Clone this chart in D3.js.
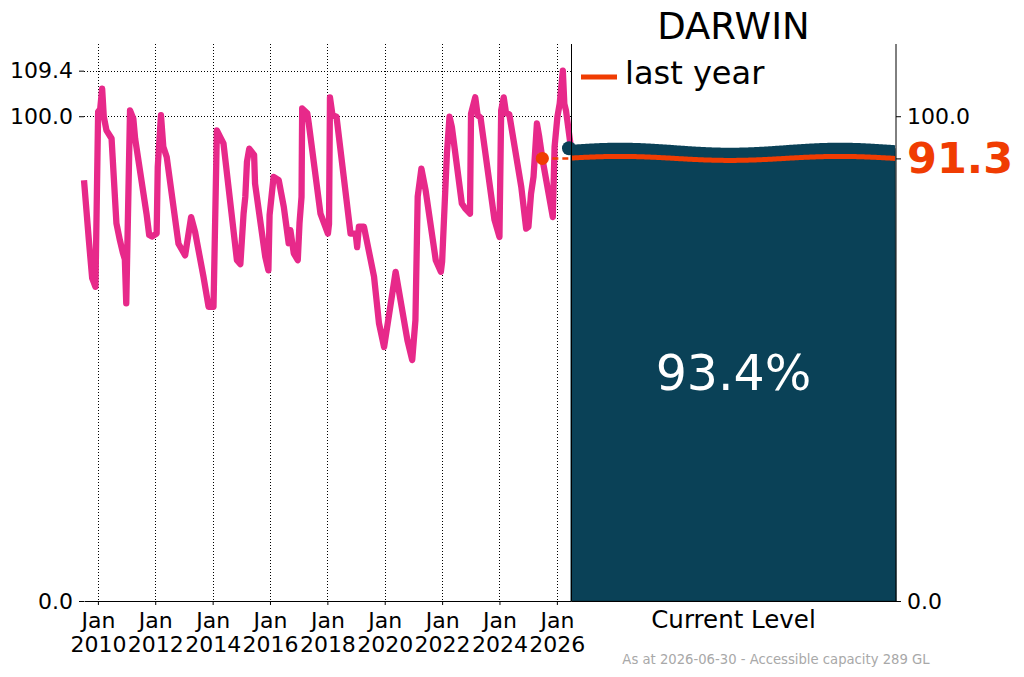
<!DOCTYPE html>
<html>
<head>
<meta charset="utf-8">
<script src="https://cdn.jsdelivr.net/npm/d3@7/dist/d3.min.js"></script>
<style>
  body { margin: 0; background: #fff; }
  text { font-family: "DejaVu Sans", sans-serif; }
</style>
</head>
<body>
<svg id="chart" width="1024" height="677"></svg>
<script>
// storage history (% of accessible capacity)
var dates = [
  '2009-07-08', '2009-09-08', '2009-10-20', '2009-12-01', '2010-01-04', '2010-01-30',
  '2010-02-24', '2010-03-17', '2010-04-20', '2010-06-24', '2010-08-25', '2010-10-08',
  '2010-11-17', '2010-12-10', '2010-12-28', '2011-02-14', '2011-03-28', '2011-04-20',
  '2011-09-12', '2011-10-16', '2011-11-20', '2012-01-19', '2012-02-02', '2012-03-14',
  '2012-04-13', '2012-05-26', '2012-10-23', '2013-01-16', '2013-04-02', '2013-05-23',
  '2013-09-06', '2013-11-10', '2014-01-12', '2014-02-24', '2014-04-08', '2014-05-19',
  '2014-11-06', '2014-12-20', '2015-01-30', '2015-02-21', '2015-03-14', '2015-04-12',
  '2015-06-13', '2015-06-25', '2015-11-02', '2015-12-12', '2015-12-27', '2016-02-16',
  '2016-04-22', '2016-06-25', '2016-08-26', '2016-09-17', '2016-10-30', '2016-12-20',
  '2017-01-11', '2017-02-06', '2017-02-14', '2017-04-20', '2017-05-09', '2017-10-05',
  '2018-01-08', '2018-01-22', '2018-02-03', '2018-03-07', '2018-04-27', '2018-10-23',
  '2018-12-27', '2019-01-15', '2019-02-06', '2019-04-12', '2019-08-18', '2019-10-20',
  '2019-12-24', '2020-05-19', '2020-10-16', '2020-12-16', '2021-01-26', '2021-02-24',
  '2021-04-12', '2021-06-05', '2021-10-12', '2021-12-16', '2022-01-01', '2022-03-03',
  '2022-04-05', '2022-05-05', '2022-09-09', '2022-10-20', '2022-12-22', '2023-01-04',
  '2023-02-27', '2023-03-29', '2023-05-05', '2023-10-30', '2024-01-01', '2024-01-23',
  '2024-02-24', '2024-03-25', '2024-05-05', '2024-10-05', '2024-12-06', '2025-01-04',
  '2025-02-06', '2025-03-10', '2025-04-22', '2025-05-22', '2025-06-30', '2025-11-10',
  '2025-12-03', '2026-01-08', '2026-02-06', '2026-03-18', '2026-04-06', '2026-04-27',
  '2026-06-30'
];
var levels = [
  86.8, 74.4, 66.6, 64.8, 100.9, 101.5,
  105.7, 99.9, 97.1, 95.4, 77.9, 74.4,
  71.7, 70.5, 61.4, 101.2, 99.5, 95.4,
  79.9, 75.5, 75.2, 75.8, 89.5, 100.2,
  93.7, 91.6, 73.7, 71.3, 79.2, 76.1,
  66.9, 60.7, 60.7, 97.1, 95.7, 94.4,
  70.3, 69.5, 79.9, 83.4, 90.6, 93.3,
  92.0, 86.1, 71.0, 68.2, 79.6, 87.5,
  86.8, 81.3, 73.8, 76.5, 71.7, 70.3,
  77.9, 83.4, 101.6, 100.6, 98.5, 79.9,
  75.8, 77.8, 103.9, 100.2, 99.9, 75.8,
  75.8, 73.0, 77.2, 77.2, 66.9, 57.3,
  52.4, 67.9, 53.8, 49.7, 57.9, 83.4,
  89.2, 84.7, 70.3, 67.9, 70.0, 92.3,
  99.9, 97.8, 82.0, 81.0, 79.9, 100.5,
  103.9, 100.2, 99.7, 78.6, 75.1, 101.2,
  103.9, 100.6, 100.4, 85.4, 76.8, 77.2,
  84.0, 87.5, 98.5, 95.7, 91.3, 79.2,
  93.7, 99.9, 102.6, 109.4, 102.6, 101.2,
  93.4
];

var reservoirName = 'DARWIN';
var asAtDate = '2026-06-30';
var lastYearDate = '2025-06-30';
var currentLevel = 93.4;
var lastYearLevel = 91.3;
var capacityGL = 289;
var barCategories = ['Current Level'];
var leftTicks = [0, 100, 109.4];
var rightTicks = [0, 91.3, 100];
var yearTicks = [2010, 2012, 2014, 2016, 2018, 2020, 2022, 2024, 2026];

var pink = '#e7298a';
var orange = '#f03c02';
var deep = '#0a4157';

var parse = d3.timeParse('%Y-%m-%d');
var fmt = d3.format('.1f');
var svg = d3.select('#chart');

var series = dates.map(function(d, i) { return { date: parse(d), value: levels[i] }; });

var x = d3.scaleTime()
  .domain([series[0].date, parse(asAtDate)])
  .range([84, 571]);
var y = d3.scaleLinear().domain([0, 114.9]).range([601, 44]);
var band = d3.scaleBand().domain(barCategories).range([571, 896]).padding(0);

var tickDates = yearTicks.map(function(yr) { return new Date(yr, 0, 1); });

// grid
var grid = svg.append('g').attr('stroke', '#000').attr('stroke-width', 1)
  .attr('stroke-dasharray', '1,2');
grid.selectAll('.vgrid').data(tickDates).enter().append('line')
  .attr('class', 'vgrid')
  .attr('x1', function(d) { return Math.round(x(d)) + 0.5; })
  .attr('x2', function(d) { return Math.round(x(d)) + 0.5; })
  .attr('y1', y.range()[1]).attr('y2', 601);
grid.selectAll('.hgrid').data(leftTicks.filter(function(t) { return t > 0; })).enter().append('line')
  .attr('class', 'hgrid')
  .attr('x1', 84).attr('x2', 571)
  .attr('y1', function(d) { return Math.round(y(d)) + 0.5; })
  .attr('y2', function(d) { return Math.round(y(d)) + 0.5; });

// history line
var line = d3.line()
  .x(function(d) { return x(d.date); })
  .y(function(d) { return y(d.value); });
svg.append('path').datum(series)
  .attr('d', line)
  .attr('fill', 'none')
  .attr('stroke', pink)
  .attr('stroke-width', 6.3)
  .attr('stroke-linejoin', 'round');

// last year marker
svg.append('line')
  .attr('x1', x(parse(lastYearDate))).attr('x2', band('Current Level'))
  .attr('y1', y(lastYearLevel)).attr('y2', y(lastYearLevel))
  .attr('stroke', orange).attr('stroke-width', 2.5).attr('stroke-dasharray', '6,4');
svg.append('circle')
  .attr('cx', x(parse(lastYearDate))).attr('cy', y(lastYearLevel))
  .attr('r', 6.5).attr('fill', orange);

// current level bar with a wavy top
var x0 = band('Current Level'), x1 = x0 + band.bandwidth();
var xs = d3.range(x0, x1 + 1, 2);
function wave(level, amp) {
  return xs.map(function(px) {
    return [px, y(level) - amp * Math.cos(2 * Math.PI * (px - 620) / 220)];
  });
}
var topEdge = wave(currentLevel, 2.5);
var barPts = [[x0, 601]].concat(topEdge).concat([[x1, 601]]);
svg.append('path')
  .attr('d', d3.line()(barPts) + 'Z')
  .attr('fill', deep)
  .attr('stroke', '#06303f').attr('stroke-width', 1);
svg.append('path')
  .attr('d', d3.line().curve(d3.curveBasis)(topEdge))
  .attr('fill', 'none').attr('stroke', deep).attr('stroke-width', 6);
svg.append('circle')
  .attr('cx', x0 - 2).attr('cy', y(currentLevel))
  .attr('r', 7).attr('fill', deep);
svg.append('path')
  .attr('d', d3.line().curve(d3.curveBasis)(wave(lastYearLevel, 2)))
  .attr('fill', 'none').attr('stroke', orange).attr('stroke-width', 5);

svg.append('text')
  .attr('x', band('Current Level') + band.bandwidth() / 2).attr('y', 390)
  .attr('text-anchor', 'middle').attr('fill', '#fff').attr('font-size', 49)
  .text(fmt(currentLevel) + '%');

// axes
var leftAxis = svg.append('g').attr('transform', 'translate(84,0)')
  .call(d3.axisLeft(y).tickValues(leftTicks).tickFormat(fmt).tickSize(5).tickPadding(6));
var bottomAxis = svg.append('g').attr('transform', 'translate(0,601)')
  .call(d3.axisBottom(x).tickValues(tickDates).tickSize(4).tickSizeOuter(0).tickFormat(''));
var rightAxis = svg.append('g').attr('transform', 'translate(896,0)')
  .call(d3.axisRight(y).tickValues(rightTicks).tickFormat(fmt).tickSize(5).tickPadding(6));
var barAxis = svg.append('g').attr('transform', 'translate(0,601)')
  .call(d3.axisBottom(band).tickSize(0).tickSizeOuter(0).tickPadding(6));

leftAxis.select('.domain').remove();
rightAxis.select('.domain').attr('d', 'M0,' + y.range()[1] + 'V601');
[leftAxis, rightAxis, barAxis].forEach(function(g) {
  g.selectAll('text').attr('font-family', '"DejaVu Sans", sans-serif')
    .attr('font-size', 22).attr('fill', '#000');
});
barAxis.selectAll('text').attr('font-size', 24.5).attr('dy', '0.85em');
rightAxis.selectAll('.tick text')
  .filter(function(d) { return d === lastYearLevel; })
  .attr('fill', orange).attr('font-weight', 'bold').attr('font-size', 43);

bottomAxis.selectAll('.tick').each(function(d) {
  var t = d3.select(this).append('text')
    .attr('fill', '#000').attr('text-anchor', 'middle')
    .attr('font-size', 22).attr('font-family', '"DejaVu Sans", sans-serif');
  t.append('tspan').attr('x', 0).attr('y', 27).text(d3.timeFormat('%b')(d));
  t.append('tspan').attr('x', 0).attr('y', 51).text(d3.timeFormat('%Y')(d));
});

// left spine of the bar panel
svg.append('line')
  .attr('x1', x0 + 0.5).attr('x2', x0 + 0.5)
  .attr('y1', y.range()[1]).attr('y2', 601)
  .attr('stroke', '#000').attr('stroke-width', 1);

// title, legend, footer
svg.append('text')
  .attr('x', (x0 + x1) / 2).attr('y', 39)
  .attr('text-anchor', 'middle').attr('font-size', 37)
  .text(reservoirName);
svg.append('line')
  .attr('x1', 581).attr('x2', 617).attr('y1', 77).attr('y2', 77)
  .attr('stroke', orange).attr('stroke-width', 5);
svg.append('text')
  .attr('x', 625).attr('y', 84).attr('font-size', 32)
  .text('last year');
svg.append('text')
  .attr('x', 776).attr('y', 664)
  .attr('text-anchor', 'middle').attr('font-size', 13.2).attr('fill', '#a8a8a8')
  .text('As at ' + asAtDate + ' - Accessible capacity ' + capacityGL + ' GL');
</script>
</body>
</html>
